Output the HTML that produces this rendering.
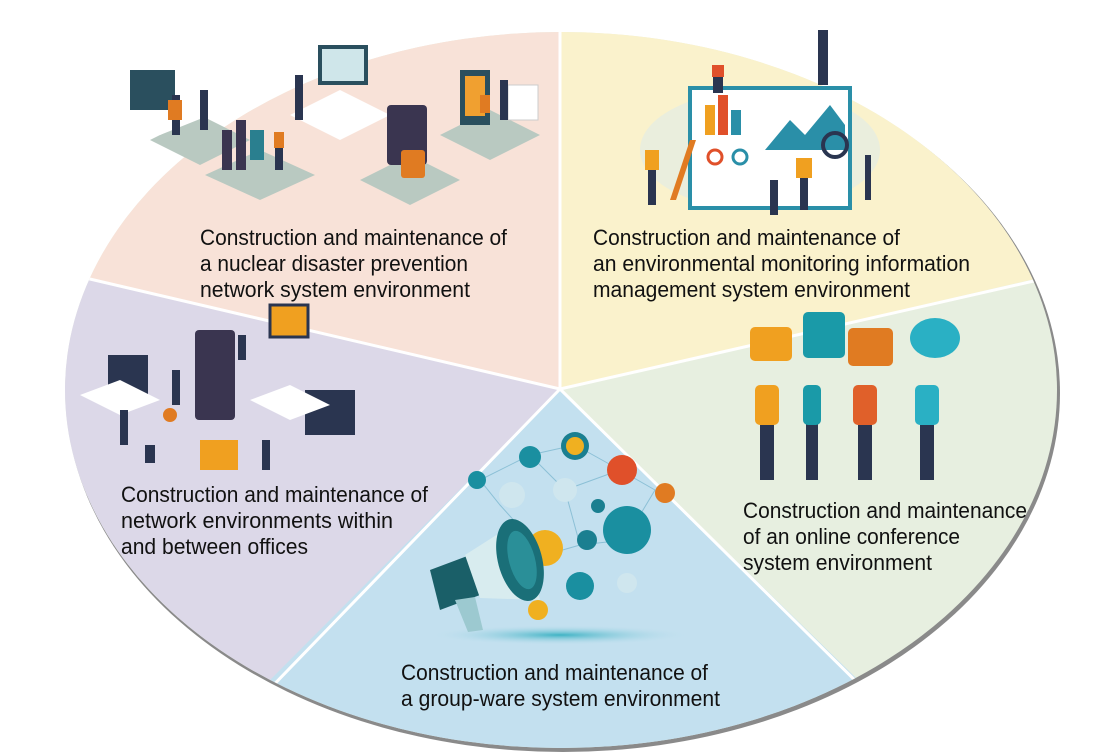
<!DOCTYPE html>
<html><head><meta charset="utf-8"><style>
html,body{margin:0;padding:0;background:#fff;width:1117px;height:752px;overflow:hidden}
svg{display:block}
text{font-family:"Liberation Sans Narrow","Liberation Sans",sans-serif;font-size:22px;fill:#111}
</style></head><body>
<svg width="1117" height="752" viewBox="0 0 1117 752" xmlns="http://www.w3.org/2000/svg">
<defs>
<clipPath id="ell"><ellipse cx="561" cy="390" rx="496" ry="358"/></clipPath>
<radialGradient id="sh" cx="0.5" cy="0.5" r="0.5"><stop offset="0" stop-color="#3fb3c4"/><stop offset="1" stop-color="#c3e0ef" stop-opacity="0"/></radialGradient>
</defs>
<ellipse cx="563" cy="393" rx="497" ry="359" fill="#8a8a8a"/>
<g clip-path="url(#ell)">
<rect x="0" y="0" width="1117" height="752" fill="#e7efe0"/>
<polygon points="560,389 560,0 0,0 0,262 87,278" fill="#f8e2d8"/>
<polygon points="560,389 560,0 1117,0 1117,266 1030,280" fill="#faf2cc"/>
<polygon points="560,389 87,278 0,262 0,752 270,680 230,752" fill="#dcd8e8"/>
<polygon points="560,389 270,680 200,752 930,752 850,672" fill="#c3e0ef"/>
<g stroke="#fff" stroke-width="3">
<line x1="560" y1="389" x2="560" y2="0"/>
<line x1="560" y1="389" x2="0" y2="258"/>
<line x1="560" y1="389" x2="1117" y2="262"/>
<line x1="560" y1="389" x2="230" y2="730"/>
<line x1="560" y1="389" x2="880" y2="705"/>
</g>
</g>

<!-- top-left illustration -->
<g>
<polygon points="150,140 200,115 250,140 200,165" fill="#b9c9c1"/>
<polygon points="205,175 260,150 315,175 260,200" fill="#b9c9c1"/>
<polygon points="290,115 340,90 390,115 340,140" fill="#fff"/>
<polygon points="360,180 410,155 460,180 410,205" fill="#b9c9c1"/>
<polygon points="440,135 490,110 540,135 490,160" fill="#b9c9c1"/>
<polygon points="125,115 175,95 210,115 160,135" fill="#fff"/>
<rect x="130" y="70" width="45" height="40" fill="#2a4f5e"/>
<rect x="318" y="45" width="50" height="40" fill="#2a4f5e"/><rect x="322" y="49" width="42" height="32" fill="#cfe6ea"/>
<rect x="387" y="105" width="40" height="60" rx="4" fill="#3a3550"/>
<rect x="401" y="150" width="24" height="28" rx="3" fill="#e07b22"/>
<rect x="460" y="70" width="30" height="55" fill="#2a4f5e"/><rect x="465" y="76" width="20" height="40" fill="#f0a030"/>
<rect x="508" y="85" width="30" height="35" fill="#fff" stroke="#ccc"/>
<rect x="222" y="130" width="10" height="40" fill="#3a3550"/><rect x="236" y="120" width="10" height="50" fill="#3a3550"/><rect x="250" y="130" width="14" height="30" fill="#2a7f8f"/>
<g fill="#2a3550"><rect x="172" y="95" width="8" height="40"/><rect x="200" y="90" width="8" height="40"/><rect x="295" y="75" width="8" height="45"/><rect x="275" y="140" width="8" height="30"/><rect x="500" y="80" width="8" height="40"/></g>
<g fill="#e07b22"><rect x="168" y="100" width="14" height="20"/><rect x="274" y="132" width="10" height="16"/><rect x="480" y="95" width="10" height="18"/></g>
</g>

<!-- top-right illustration -->
<g>
<ellipse cx="760" cy="150" rx="120" ry="60" fill="#e3ece4" opacity="0.7"/>
<rect x="690" y="88" width="160" height="120" fill="#fff" stroke="#2a8fa8" stroke-width="4"/>
<rect x="705" y="105" width="10" height="30" fill="#f0a020"/><rect x="718" y="95" width="10" height="40" fill="#e0502a"/><rect x="731" y="110" width="10" height="25" fill="#2a8fa8"/>
<polygon points="765,150 790,120 805,135 830,105 845,125 845,150" fill="#2a8fa8"/>
<circle cx="715" cy="157" r="7" fill="none" stroke="#e0502a" stroke-width="3"/><circle cx="740" cy="157" r="7" fill="none" stroke="#2a8fa8" stroke-width="3"/>
<circle cx="835" cy="145" r="12" fill="none" stroke="#2a3550" stroke-width="4"/>
<g fill="#2a3550"><rect x="818" y="30" width="10" height="55"/><rect x="713" y="75" width="10" height="18"/><rect x="648" y="165" width="8" height="40"/><rect x="770" y="180" width="8" height="35"/><rect x="800" y="175" width="8" height="35"/><rect x="865" y="155" width="6" height="45"/></g>
<g fill="#f0a020"><rect x="645" y="150" width="14" height="20"/><rect x="796" y="158" width="16" height="20"/></g>
<rect x="712" y="65" width="12" height="12" fill="#e0502a"/>
<polygon points="670,200 690,140 696,140 676,200" fill="#e07b22"/>
</g>

<!-- right illustration -->
<g>
<rect x="750" y="327" width="42" height="34" rx="5" fill="#f0a020"/>
<rect x="803" y="312" width="42" height="46" rx="5" fill="#1a9aa8"/>
<rect x="848" y="328" width="45" height="38" rx="5" fill="#e07b22"/>
<ellipse cx="935" cy="338" rx="25" ry="20" fill="#2ab0c4"/>
<g fill="#2a3550"><rect x="760" y="420" width="14" height="60"/><rect x="806" y="420" width="12" height="60"/><rect x="858" y="420" width="14" height="60"/><rect x="920" y="420" width="14" height="60"/></g>
<rect x="755" y="385" width="24" height="40" rx="5" fill="#f0a020"/>
<rect x="803" y="385" width="18" height="40" rx="5" fill="#1a9aa8"/>
<rect x="853" y="385" width="24" height="40" rx="5" fill="#e0602a"/>
<rect x="915" y="385" width="24" height="40" rx="5" fill="#2ab0c4"/>
</g>

<!-- left illustration -->
<g>
<rect x="108" y="355" width="40" height="40" fill="#2a3550"/>
<polygon points="80,395 120,380 160,400 120,415" fill="#fff"/>
<rect x="195" y="330" width="40" height="90" rx="4" fill="#3a3550"/>
<rect x="270" y="305" width="38" height="32" fill="#f0a020" stroke="#2a3550" stroke-width="3"/>
<rect x="305" y="390" width="50" height="45" fill="#2a3550"/>
<rect x="200" y="440" width="38" height="30" fill="#f0a020"/>
<polygon points="250,400 290,385 330,405 290,420" fill="#fff"/>
<g fill="#2a3550"><rect x="120" y="410" width="8" height="35"/><rect x="172" y="370" width="8" height="35"/><rect x="262" y="440" width="8" height="30"/><rect x="238" y="335" width="8" height="25"/></g>
<circle cx="170" cy="415" r="7" fill="#e07b22"/>
<rect x="145" y="445" width="10" height="18" fill="#2a3550"/>
</g>

<!-- bottom illustration -->
<g>
<ellipse cx="560" cy="635" rx="130" ry="10" fill="url(#sh)"/>
<g stroke="#8cc0d6" stroke-width="1" fill="none"><path d="M480,480 L530,455 L575,445 L620,470 L655,490 L625,540 L580,545 L545,555 L500,505 Z M530,455 L565,490 L620,470 M565,490 L580,545"/></g>
<g>
<circle cx="530" cy="457" r="11" fill="#1a8fa0"/><circle cx="575" cy="446" r="14" fill="#1a7f90"/><circle cx="575" cy="446" r="9" fill="#f0b020"/>
<circle cx="622" cy="470" r="15" fill="#e0502a"/><circle cx="477" cy="480" r="9" fill="#1a8fa0"/>
<circle cx="512" cy="495" r="13" fill="#cfe6ee"/><circle cx="565" cy="490" r="12" fill="#cfe6ee"/>
<circle cx="598" cy="506" r="7" fill="#1a7f90"/><circle cx="665" cy="493" r="10" fill="#e07b22"/>
<circle cx="545" cy="548" r="18" fill="#f0b020"/><circle cx="587" cy="540" r="10" fill="#1a7f90"/>
<circle cx="627" cy="530" r="24" fill="#1a8fa0"/><circle cx="627" cy="583" r="10" fill="#cfe6ee"/>
<circle cx="580" cy="586" r="14" fill="#1a8fa0"/><circle cx="538" cy="610" r="10" fill="#f0b020"/>
</g>
<polygon points="430,570 470,555 480,595 440,610" fill="#1a5f68"/>
<polygon points="465,555 520,520 540,600 480,598" fill="#d8ecef"/>
<ellipse cx="520" cy="560" rx="22" ry="42" fill="#1a6f78" transform="rotate(-15 520 560)"/>
<ellipse cx="522" cy="560" rx="13" ry="30" fill="#2a8f98" transform="rotate(-15 522 560)"/>
<polygon points="455,600 475,597 483,630 468,632" fill="#9cc9d0"/>
</g>

<!-- labels -->
<text x="200" y="245" textLength="307" lengthAdjust="spacingAndGlyphs">Construction and maintenance of</text>
<text x="200" y="271" textLength="268" lengthAdjust="spacingAndGlyphs">a nuclear disaster prevention</text>
<text x="200" y="297" textLength="270" lengthAdjust="spacingAndGlyphs">network system environment</text>

<text x="593" y="245" textLength="307" lengthAdjust="spacingAndGlyphs">Construction and maintenance of</text>
<text x="593" y="271" textLength="377" lengthAdjust="spacingAndGlyphs">an environmental monitoring information</text>
<text x="593" y="297" textLength="317" lengthAdjust="spacingAndGlyphs">management system environment</text>

<text x="121" y="502" textLength="307" lengthAdjust="spacingAndGlyphs">Construction and maintenance of</text>
<text x="121" y="528" textLength="272" lengthAdjust="spacingAndGlyphs">network environments within</text>
<text x="121" y="554" textLength="187" lengthAdjust="spacingAndGlyphs">and between offices</text>

<text x="743" y="518" textLength="284" lengthAdjust="spacingAndGlyphs">Construction and maintenance</text>
<text x="743" y="544" textLength="217" lengthAdjust="spacingAndGlyphs">of an online conference</text>
<text x="743" y="570" textLength="189" lengthAdjust="spacingAndGlyphs">system environment</text>

<text x="401" y="680" textLength="307" lengthAdjust="spacingAndGlyphs">Construction and maintenance of</text>
<text x="401" y="706" textLength="319" lengthAdjust="spacingAndGlyphs">a group-ware system environment</text>
</svg>
</body></html>
